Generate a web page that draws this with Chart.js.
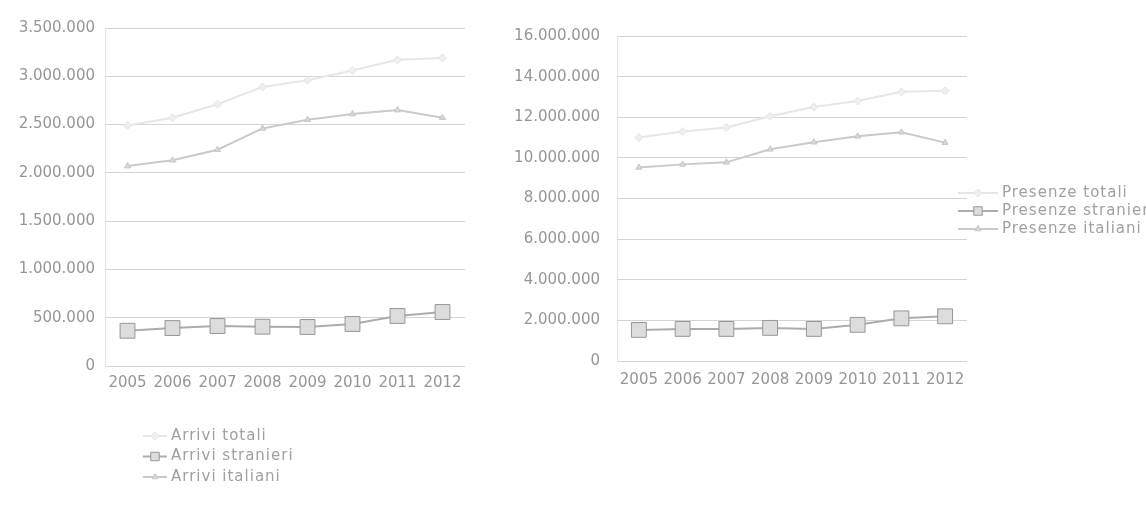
<!DOCTYPE html>
<html lang="it">
<head>
<meta charset="utf-8">
<title>Arrivi e presenze 2005-2012</title>
<script src="https://cdn.jsdelivr.net/npm/chart.js@4/dist/chart.umd.min.js"></script>
<style>
  html, body { margin: 0; padding: 0; background: #fff; }
  #wrap { position: relative; width: 1146px; height: 507px; overflow: hidden; }
  #arrivi { position: absolute; left: 0; top: 0; }
  #presenze { position: absolute; left: 480px; top: 0; }
</style>
</head>
<body>
<div id="wrap">
  <canvas id="arrivi" width="480" height="507"></canvas>
  <canvas id="presenze" width="666" height="507"></canvas>
</div>
<script>
// Years on the category axis
const anni = ['2005', '2006', '2007', '2008', '2009', '2010', '2011', '2012'];

// Arrivals
const arriviTotali    = [2490000, 2570000, 2710000, 2890000, 2960000, 3060000, 3170000, 3190000];
const arriviStranieri = [365000, 393000, 414000, 407000, 404000, 435000, 518000, 559000];
const arriviItaliani  = [2070000, 2130000, 2240000, 2460000, 2550000, 2610000, 2650000, 2570000];

// Overnight stays
const presenzeTotali    = [11000000, 11300000, 11500000, 12050000, 12500000, 12800000, 13250000, 13300000];
const presenzeStranieri = [1530000, 1580000, 1580000, 1630000, 1580000, 1780000, 2100000, 2200000];
const presenzeItaliani  = [9530000, 9680000, 9780000, 10420000, 10770000, 11060000, 11260000, 10750000];

// Axis ranges
const arriviMax = 3500000, arriviStep = 500000;
const presenzeMax = 16000000, presenzeStep = 2000000;

const FONT = '"DejaVu Sans", sans-serif';
const TEXT = '#969696';
const GRID = '#d4d4d4';

Chart.defaults.font.family = FONT;
Chart.defaults.font.size = 15;
Chart.defaults.color = TEXT;

const migliaia = v => String(v).replace(/\B(?=(\d{3})+(?!\d))/g, '.');

function serie(label, data, kind) {
  const styles = {
    totali:    { borderColor: '#e6e6e6', backgroundColor: '#efefef', pointStyle: 'rectRot',  pointRadius: 4, pointBorderColor: '#e4e4e4' },
    stranieri: { borderColor: '#acacac', backgroundColor: '#dcdcdc', pointStyle: 'rect',     pointRadius: 10.5, pointBorderColor: '#979797' },
    italiani:  { borderColor: '#cacaca', backgroundColor: '#d8d8d8', pointStyle: 'triangle', pointRadius: 3.5, pointBorderColor: '#c6c6c6' }
  }[kind];
  return Object.assign({
    label, data,
    borderWidth: 2,
    pointBorderWidth: 1,
    pointBackgroundColor: styles.backgroundColor,
    fill: false,
    tension: 0
  }, styles);
}

// Legend laid out as a single column of entries
const colonnaLegenda = {
  id: 'colonnaLegenda',
  afterDraw(chart, args, o) {
    const ctx = chart.ctx;
    ctx.save();
    ctx.font = '15px ' + FONT;
    if ('letterSpacing' in ctx) ctx.letterSpacing = '1px';
    ctx.textBaseline = 'middle';
    ctx.textAlign = 'left';
    chart.data.datasets.forEach((ds, i) => {
      const y = o.y + i * o.gap;
      ctx.strokeStyle = ds.borderColor;
      ctx.lineWidth = 2;
      ctx.beginPath();
      ctx.moveTo(o.x, y);
      ctx.lineTo(o.x + o.w, y);
      ctx.stroke();
      ctx.fillStyle = ds.pointBackgroundColor;
      ctx.strokeStyle = ds.pointBorderColor;
      ctx.lineWidth = 1;
      Chart.helpers.drawPoint(ctx, {
        pointStyle: ds.pointStyle,
        radius: Math.min(ds.pointRadius, 6),
        rotation: 0,
        borderWidth: 1
      }, o.x + o.w / 2, y);
      ctx.fillStyle = o.color;
      ctx.fillText(ds.label, o.x + o.w + 4, y);
    });
    ctx.restore();
  }
};

function grafico(id, datasets, max, step, geo) {
  return new Chart(document.getElementById(id), {
    type: 'line',
    data: { labels: anni, datasets },
    plugins: [colonnaLegenda],
    options: {
      responsive: false,
      animation: false,
      events: [],
      layout: { padding: { top: geo.top, right: geo.right, bottom: geo.bottom, left: 0 } },
      plugins: {
        legend: { display: false },
        tooltip: { enabled: false },
        colonnaLegenda: geo.legend
      },
      scales: {
        x: {
          offset: true,
          grid: { display: false, drawTicks: false },
          border: { display: false },
          ticks: { padding: geo.xPad, color: TEXT, maxRotation: 0, autoSkip: false },
          afterFit: s => { s.height = 30; }
        },
        y: {
          min: 0, max,
          grid: { color: GRID, lineWidth: 1, drawTicks: false },
          border: { display: true, color: '#e4e4e4' },
          ticks: { stepSize: step, padding: geo.yPad, color: TEXT, callback: migliaia },
          afterFit: s => { s.width = geo.yWidth; }
        }
      }
    }
  });
}

grafico('arrivi', [
  serie('Arrivi totali', arriviTotali, 'totali'),
  serie('Arrivi stranieri', arriviStranieri, 'stranieri'),
  serie('Arrivi italiani', arriviItaliani, 'italiani')
], arriviMax, arriviStep, {
  top: 28, right: 15, bottom: 111, yWidth: 105, yPad: 10, xPad: 8,
  legend: { x: 143, w: 24, y: 436, gap: 20.5, color: '#a0a0a0' }
});

grafico('presenze', [
  serie('Presenze totali', presenzeTotali, 'totali'),
  serie('Presenze stranieri', presenzeStranieri, 'stranieri'),
  serie('Presenze italiani', presenzeItaliani, 'italiani')
], presenzeMax, presenzeStep, {
  top: 36, right: 179, bottom: 116, yWidth: 137, yPad: 17, xPad: 10,
  legend: { x: 478, w: 40, y: 193, gap: 18, color: '#a0a0a0' }
});
</script>
</body>
</html>
